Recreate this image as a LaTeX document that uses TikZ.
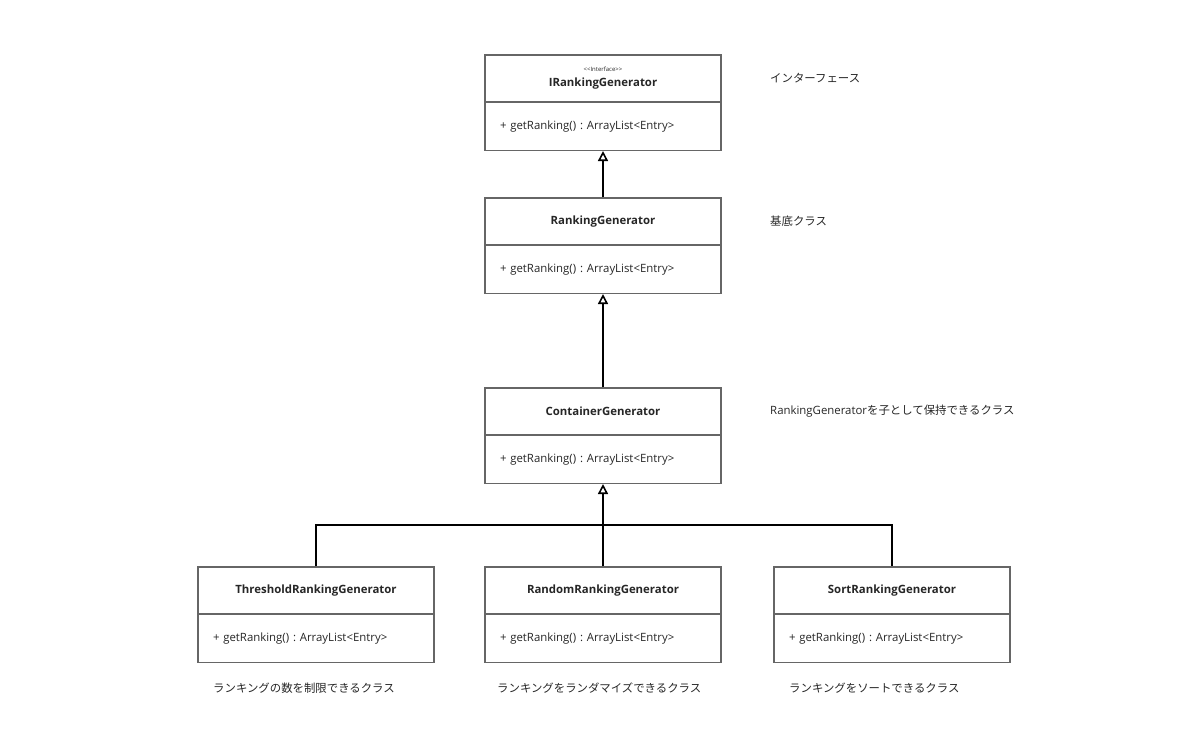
\documentclass[tikz,border=0pt]{standalone}
\usepackage{fontspec}
\setmainfont{Open Sans}
\newfontfamily\jp{Noto Sans CJK JP}
\usetikzlibrary{arrows.meta}
\frenchspacing

\begin{document}
\begin{tikzpicture}[x=1pt,y=-1pt]
\tikzstyle{herit}=[-{Triangle[open,length=10pt,width=10pt,line width=1.6pt]},line width=2.2pt]
\tikzstyle{lien}=[line width=2.2pt]
\tikzset{classe/.style={draw=black!60,line width=1.1pt,minimum width=236pt,minimum height=47pt,
  inner sep=0pt,font=\fontsize{11.4}{13}\selectfont\bfseries,text=black!85},
methode/.style={draw=black!60,line width=1.1pt,minimum width=236pt,minimum height=48pt,
  inner xsep=15pt,text width=206pt,align=left,font=\fontsize{11.4}{13}\selectfont,text=black!85},
note/.style={anchor=west,inner sep=0pt,font=\fontsize{11.4}{14}\selectfont\jp,text=black!85}}
\useasboundingbox (0,0) rectangle (1200,754);
% interface
\node [classe,align=center] (irg) at (603,78.5) {{\fontsize{6}{6}\selectfont\mdseries {<}{<}Interface{>}{>}}\\[2pt]IRankingGenerator};
\node [methode] (irgm) at (603,126.5) {+ getRanking() : ArrayList<Entry>};
% classe de base
\node [classe] (rg) at (603,221.5) {RankingGenerator};
\node [methode] (rgm) at (603,269.5) {+ getRanking() : ArrayList<Entry>};
\node [classe] (cg) at (603,411.5) {ContainerGenerator};
\node [methode] (cgm) at (603,459.5) {+ getRanking() : ArrayList<Entry>};
% sous-classes
\node [classe] (thg) at (316,590.5) {ThresholdRankingGenerator};
\node [methode] (thgm) at (316,638.5) {+ getRanking() : ArrayList<Entry>};
\node [classe] (rdg) at (603,590.5) {RandomRankingGenerator};
\node [methode] (rdgm) at (603,638.5) {+ getRanking() : ArrayList<Entry>};
\node [classe] (srg) at (892,590.5) {SortRankingGenerator};
\node [methode] (srgm) at (892,638.5) {+ getRanking() : ArrayList<Entry>};
% fleches
\draw [herit] (rg.north) -- (irgm.south);
\draw [herit] (cg.north) -- (rgm.south);
\draw [herit] (rdg.north) -- (cgm.south);
\coordinate (bus) at (603,525);
\draw [lien] (thg.north) |- (bus) -| (srg.north);
% notes
\node [note] (n1) at (770,78) {インターフェース};
\node [note] (n2) at (770,221) {基底クラス};
\node [note] (n3) at (770,411) {{\rmfamily RankingGenerator}を子として保持できるクラス};
\node [note] (n4) at (213,688) {ランキングの数を制限できるクラス};
\node [note] (n5) at (497,688) {ランキングをランダマイズできるクラス};
\node [note] (n6) at (789,688) {ランキングをソートできるクラス};
\end{tikzpicture}
\end{document}
